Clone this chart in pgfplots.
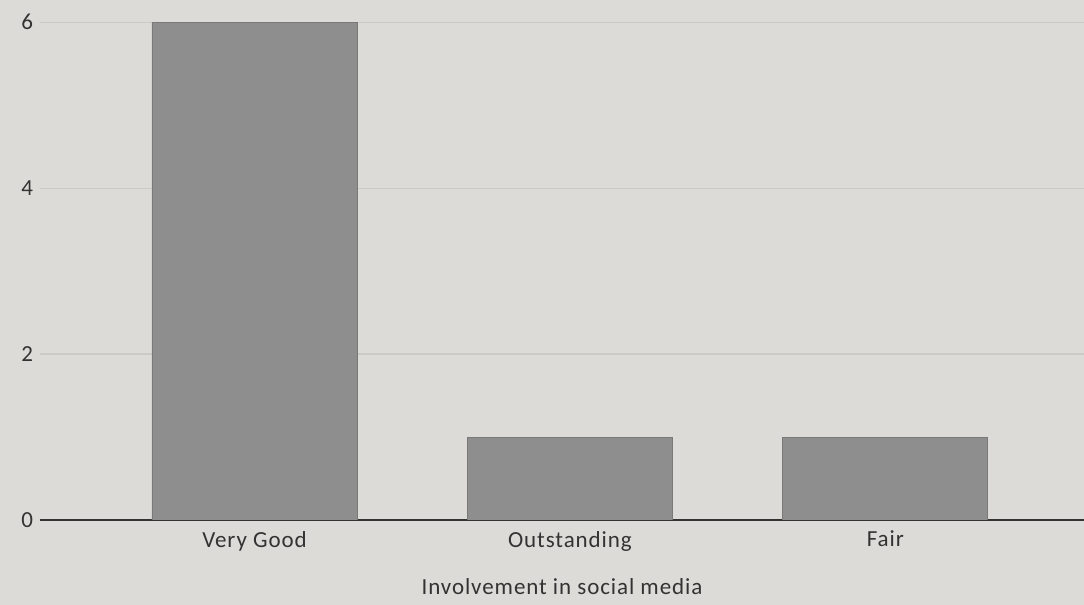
\documentclass[border=0pt]{standalone}
\usepackage{pgfplots}
\pgfplotsset{compat=1.18}
\usepackage{fontspec}
\setmainfont{Carlito}[LetterSpace=4]
\usetikzlibrary{backgrounds, calc}
\definecolor{bgpaper}{HTML}{DCDBD7}
\definecolor{bargray}{HTML}{8E8E8E}
\definecolor{gridgray}{HTML}{CACAC6}
\definecolor{txt}{HTML}{333333}

\begin{document}
\begin{tikzpicture}
	\begin{axis}[
		name=ax,
		scale only axis,
		width=522pt, height=253pt,
		ymin=0, ymax=6.1,
		xmin=-0.68, xmax=2.63,
		xtick={0,1,2},
		xticklabels={Very Good, Outstanding, Fair},
		ytick={0,2,4,6},
		ymajorgrids,
		major grid style={draw=gridgray, line width=0.6pt},
		axis x line*=bottom,
		axis y line*=left,
		y axis line style={draw=none},
		x axis line style={draw=black!80, line width=0.8pt},
		major tick length=0pt,
		xlabel={Involvement in social media},
		xlabel style={yshift=-7pt},
		xticklabel style={yshift=-2pt},
		tick label style={font=\fontsize{11.5}{13}\selectfont, text=txt},
		label style={font=\fontsize{11.5}{13}\selectfont, text=txt},
		/pgf/number format/assume math mode=true,
		ybar, bar width=0.65, bar shift=0pt,
	]
	\addplot[fill=bargray, draw=bargray!85!black, line width=0.4pt] coordinates
		{(0,6) (1,1) (2,1)};
	\end{axis}
	\pgfresetboundingbox
	\useasboundingbox ($(ax.south west)+(-20pt,-42.5pt)$) rectangle ($(ax.north east)+(0,7pt)$);
	\begin{scope}[on background layer]
		\fill[bgpaper] ($(ax.south west)+(-20pt,-42.5pt)$) rectangle ($(ax.north east)+(0,7pt)$);
	\end{scope}
\end{tikzpicture}
\end{document}
